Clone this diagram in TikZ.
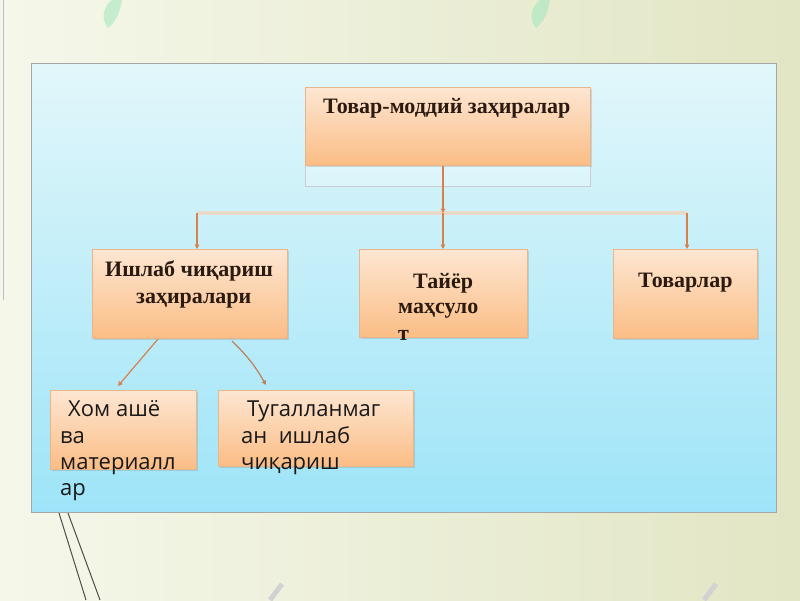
\documentclass[tikz,border=0pt]{standalone}
\usepackage{fontspec}
\setmainfont{Liberation Serif}
\newfontfamily\boxsans{Open Sans}
\usetikzlibrary{arrows.meta,shadows}
\definecolor{bgA}{HTML}{F5F7EA}
\definecolor{bgB}{HTML}{E2E6C4}
\definecolor{panelTop}{HTML}{E2F7FA}
\definecolor{panelBot}{HTML}{9EE4F8}
\definecolor{boxTop}{HTML}{FDE6D2}
\definecolor{boxBot}{HTML}{FBBD85}
\definecolor{boxEdge}{HTML}{E9B58A}
\definecolor{connC}{HTML}{D9804A}
\definecolor{barC}{HTML}{E9D9C9}
\definecolor{txt}{HTML}{2A1A10}
\tikzset{
  obox/.style={draw=boxEdge, line width=0.6pt, top color=boxTop, bottom color=boxBot,
    inner sep=0pt, anchor=north west,
    drop shadow={shadow xshift=1.5pt, shadow yshift=-1.5pt, opacity=0.25, fill=gray}},
  hdr/.style={anchor=base west, inner sep=0pt, text=txt,
    font=\fontsize{22}{26}\selectfont\bfseries},
  stxt/.style={anchor=base west, inner sep=0pt, text=black!90,
    font=\boxsans\fontsize{22}{26}\selectfont},
  conn/.style={draw=connC, line width=1.2pt, -{Triangle[width=4.5pt,length=4.5pt]}},
  barline/.style={draw=barC, line width=4pt},
  deco/.style={draw=#1, line width=1pt}
}
\begin{document}
\begin{tikzpicture}[x=1pt,y=-1pt]
\useasboundingbox (0,0) rectangle (800,600);
% slide background
\shade[left color=bgA, right color=bgB] (0,0) rectangle (800,600);
\fill[green!45!teal!35, opacity=0.6] (108,28) .. controls (100,18) and (104,6) .. (112,0) -- (122,0) .. controls (120,12) and (116,22) .. (108,28) -- cycle;
\fill[green!45!teal!35, opacity=0.6] (536,28) .. controls (528,18) and (532,6) .. (540,0) -- (550,0) .. controls (548,12) and (544,22) .. (536,28) -- cycle;
\draw[deco=gray!50] (3,0) -- (3,300);
\draw[deco=black!70] (59,513) -- (86,600);
\draw[deco=black!70] (68,513) -- (100,600);
\draw[gray!35, line width=5pt] (270,600) -- (282,584);
\draw[gray!35, line width=5pt] (704,600) -- (716,584);
% panel
\shade[top color=panelTop, bottom color=panelBot, draw=gray!70, line width=0.8pt]
  (31,63) rectangle (776,512);
% top box with its lower part
\node[draw=white!60!gray, fill=white, fill opacity=0.25, line width=0.8pt, inner sep=0pt, anchor=north west,
  minimum width=285pt, minimum height=99pt] (topframe) at (305,87) {};
\node[obox, minimum width=285pt, minimum height=78pt] (top) at (305,87) {};
\node[hdr] (tTop) at (323,113) {Товар-моддий заҳиралар};
% second level boxes
\node[obox, minimum width=195pt, minimum height=89pt] (prod) at (92,249) {};
\node[obox, minimum width=168pt, minimum height=88pt] (fin) at (359,249) {};
\node[obox, minimum width=144pt, minimum height=89pt] (goods) at (613,249) {};
% third level boxes
\node[obox, minimum width=146pt, minimum height=79pt] (raw) at (50,390) {};
\node[obox, minimum width=195pt, minimum height=76pt] (wip) at (218,390) {};
% connector coordinates
\coordinate (barM) at (443,213);
\coordinate (barL) at (197,213);
\coordinate (barR) at (687,213);
\coordinate (prodOutL) at (158,339);
\coordinate (prodOutR) at (232,341);
\coordinate (rawIn) at (118,386);
\coordinate (wipIn) at (266,385);
% connectors
\draw[barline] (barL) -- (barR);
\draw[conn] (barM |- top.south) -- (barM);
\draw[conn] (barM) -- (barM |- fin.north);
\draw[conn] (barL) -- (barL |- prod.north);
\draw[conn] (barR) -- (barR |- goods.north);
\draw[conn] (prodOutL) -- (rawIn);
\draw[conn, draw=connC!70!gray] (prodOutR) to[bend left=8] (wipIn);
% texts
\node[hdr] (tProd1) at (105,276) {Ишлаб чиқариш};
\node[hdr] (tProd2) at (136,303) {заҳиралари};
\node[hdr] (tFin1) at (413,288) {Тайёр};
\node[hdr] (tFin2) at (398,313) {маҳсуло};
\node[hdr] (tFin3) at (398,340) {т};
\node[hdr] (tGoods) at (638,287) {Товарлар};
\node[stxt] (tRaw1) at (68,416) {Хом ашё};
\node[stxt] (tRaw2) at (60,443) {ва};
\node[stxt] (tRaw3) at (60,469) {материалл};
\node[stxt] (tRaw4) at (60,495) {ар};
\node[stxt] (tWip1) at (247,416) {Тугалланмаг};
\node[stxt] (tWip2) at (241,443) {ан\ \ ишлаб};
\node[stxt] (tWip3) at (241,469) {чиқариш};
\end{tikzpicture}
\end{document}
